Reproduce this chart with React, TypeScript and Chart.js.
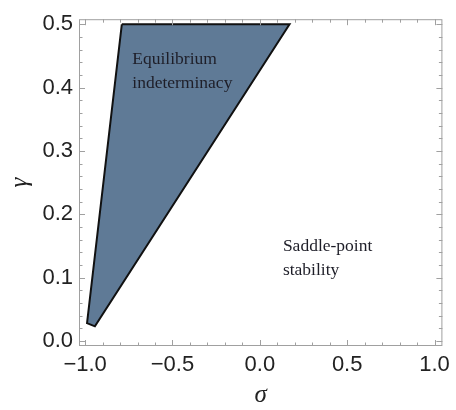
import { useEffect, useRef } from "react";
import { Chart, registerables } from "chart.js";

Chart.register(...registerables);

// Region boundary (σ, γ) of the equilibrium-indeterminacy area
const regionSigma = [-0.79, 0.17, -0.944, -0.989, -0.79];
const regionGamma = [0.5, 0.5, 0.023, 0.028, 0.5];

// Tick values
const xMajorTicks = [-1, -0.5, 0, 0.5, 1];
const yMajorTicks = [0, 0.1, 0.2, 0.3, 0.4, 0.5];
const xMinorTicks = [-1, -0.9, -0.8, -0.7, -0.6, -0.5, -0.4, -0.3, -0.2, -0.1, 0, 0.1, 0.2, 0.3, 0.4, 0.5, 0.6, 0.7, 0.8, 0.9, 1];
const yMinorTicks = [0, 0.02, 0.04, 0.06, 0.08, 0.1, 0.12, 0.14, 0.16, 0.18, 0.2, 0.22, 0.24, 0.26, 0.28, 0.3, 0.32, 0.34, 0.36, 0.38, 0.4, 0.42, 0.44, 0.46, 0.48, 0.5];

// Region labels
const labelTexts = [["Equilibrium", "indeterminacy"], ["Saddle-point", "stability"]];
const labelSigma = [-0.73, 0.132];
const labelGamma = [0.437, 0.1415];

const fmt = (v: number) => Number(v).toFixed(1).replace("-", "\u2212");

const framePlugin = {
  id: "framePlugin",
  afterDraw(chart: any) {
    const { ctx, chartArea: a, scales } = chart;
    const xs = scales.x;
    const ys = scales.y;
    ctx.save();
    ctx.strokeStyle = "#a0a0a0";
    ctx.lineWidth = 1;
    ctx.strokeRect(a.left + 0.5, a.top + 0.5, a.right - a.left - 1, a.bottom - a.top - 1);
    const isMajor = (v: number, majors: number[]) => majors.some((m) => Math.abs(m - v) < 1e-9);
    ctx.beginPath();
    xMinorTicks.forEach((v) => {
      const len = isMajor(v, xMajorTicks) ? 6 : 3.5;
      const px = Math.round(xs.getPixelForValue(v)) + 0.5;
      ctx.moveTo(px, a.bottom);
      ctx.lineTo(px, a.bottom - len);
      ctx.moveTo(px, a.top);
      ctx.lineTo(px, a.top + len);
    });
    yMinorTicks.forEach((v) => {
      const len = isMajor(v, yMajorTicks) ? 6 : 3.5;
      const py = Math.round(ys.getPixelForValue(v)) + 0.5;
      ctx.moveTo(a.left, py);
      ctx.lineTo(a.left + len, py);
      ctx.moveTo(a.right, py);
      ctx.lineTo(a.right - len, py);
    });
    ctx.stroke();

    ctx.fillStyle = "#1e1e28";
    ctx.font = "17.5px 'Liberation Serif', serif";
    ctx.textBaseline = "alphabetic";
    ctx.textAlign = "left";
    labelTexts.forEach((lines, i) => {
      const px = xs.getPixelForValue(labelSigma[i]);
      const py = ys.getPixelForValue(labelGamma[i]);
      lines.forEach((t, j) => ctx.fillText(t, px, py + j * 23.5));
    });
    ctx.restore();
  },
};

export default function App() {
  const ref = useRef<HTMLCanvasElement | null>(null);
  useEffect(() => {
    document.body.style.margin = "0";
    const canvas = ref.current;
    if (!canvas) return;
    const tickFont = { family: "'Liberation Sans', Arial, sans-serif", size: 22 };
    const chart = new Chart(canvas, {
      type: "scatter",
      data: {
        datasets: [
          {
            data: regionSigma.map((s, i) => ({ x: s, y: regionGamma[i] })),
            showLine: true,
            fill: "shape",
            backgroundColor: "#5f7a96",
            borderColor: "#111111",
            borderWidth: 2,
            borderJoinStyle: "miter",
            pointRadius: 0,
            pointHoverRadius: 0,
            tension: 0,
          } as any,
        ],
      },
      options: {
        responsive: false,
        animation: false,
        layout: { padding: { top: 11, right: 8, left: 0, bottom: 0 } },
        plugins: { legend: { display: false }, tooltip: { enabled: false } },
        scales: {
          x: {
            type: "linear",
            min: -1.035,
            max: 1.045,
            afterBuildTicks: (s: any) => {
              s.ticks = xMajorTicks.map((v) => ({ value: v }));
            },
            afterFit: (s: any) => {
              s.height = 64;
            },
            ticks: {
              callback: (v: any) => fmt(v),
              font: tickFont,
              color: "#222222",
              padding: 6,
              maxRotation: 0,
              autoSkip: false,
            },
            grid: { display: false, drawTicks: false },
            border: { display: false },
            title: {
              display: true,
              text: "\u03c3",
              color: "#222222",
              font: { family: "'Liberation Serif', serif", size: 25, style: "italic", lineHeight: 1.2 },
              padding: { top: 0, bottom: 0 },
            },
          },
          y: {
            type: "linear",
            min: -0.008,
            max: 0.508,
            afterBuildTicks: (s: any) => {
              s.ticks = yMajorTicks.map((v) => ({ value: v }));
            },
            afterFit: (s: any) => {
              s.width = 79;
            },
            ticks: {
              callback: (v: any) => fmt(v),
              font: tickFont,
              color: "#222222",
              padding: 6,
              autoSkip: false,
            },
            grid: { display: false, drawTicks: false },
            border: { display: false },
            title: {
              display: true,
              text: "\u03b3",
              color: "#222222",
              font: { family: "'Liberation Serif', serif", size: 25, style: "italic", lineHeight: 1.2 },
              padding: { top: 5, bottom: 0 },
            },
          },
        },
      },
      plugins: [framePlugin],
    });
    return () => chart.destroy();
  }, []);
  return (
    <div style={{ width: 456, height: 410 }}>
      <canvas ref={ref} width={456} height={410} />
    </div>
  );
}
